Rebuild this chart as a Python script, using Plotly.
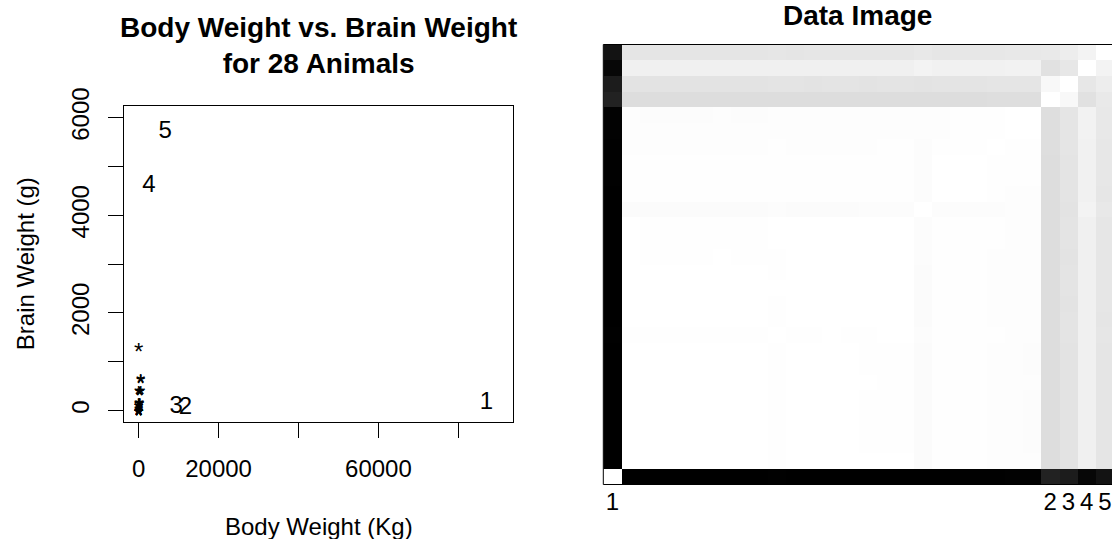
import numpy as np
import plotly.graph_objects as go

# Animals data: body weight (kg) and brain weight (g)
animals = ["Mountain beaver", "Cow", "Grey wolf", "Goat", "Guinea pig", "Dipliodocus",
           "Asian elephant", "Donkey", "Horse", "Potar monkey", "Cat", "Giraffe",
           "Gorilla", "Human", "African elephant", "Triceratops", "Rhesus monkey",
           "Kangaroo", "Golden hamster", "Mouse", "Rabbit", "Sheep", "Jaguar",
           "Chimpanzee", "Rat", "Brachiosaurus", "Mole", "Pig"]
body = [1.35, 465, 36.33, 27.66, 1.04, 11700, 2547, 187.1, 521, 10, 3.3, 529,
        207, 62, 6654, 9400, 6.8, 35, 0.12, 0.023, 2.5, 55.5, 100, 52.16, 0.28,
        87000, 0.122, 192]
brain = [8.1, 423, 119.5, 115, 5.5, 50, 4603, 419, 655, 115, 25.6, 680, 406,
         1320, 5712, 70, 179, 56, 1, 0.4, 12.1, 175, 157, 440, 1.9, 154.5, 3, 180]

# top five outliers, in rank order
outlier_names = ["Brachiosaurus", "Dipliodocus", "Triceratops", "Asian elephant",
                 "African elephant"]
outlier_ranks = ["1", "2", "3", "4", "5"]

FONT = "Liberation Sans, Arial, Helvetica, sans-serif"

X = np.column_stack([body, brain]).astype(float)
n = len(X)
D = np.sqrt(((X[:, None, :] - X[None, :, :]) ** 2).sum(-1))


def hclust_order(dist):
    """Ward (squared-distance) clustering with R's hclust leaf ordering."""
    n = dist.shape[0]
    diss = dist.copy() ** 2
    size = np.ones(n)
    alive = np.ones(n, bool)
    ia, ib = [], []
    for _ in range(n - 1):
        dmin, im, jm = np.inf, -1, -1
        for i in range(n - 1):
            if not alive[i]:
                continue
            for j in range(i + 1, n):
                if alive[j] and diss[i, j] < dmin:
                    dmin, im, jm = diss[i, j], i, j
        i2, j2 = min(im, jm), max(im, jm)
        ia.append(i2 + 1)
        ib.append(j2 + 1)
        alive[j2] = False
        dij = diss[i2, j2]
        for k in range(n):
            if alive[k] and k != i2:
                v = ((size[i2] + size[k]) * diss[i2, k] + (size[j2] + size[k]) * diss[j2, k]
                     - size[k] * dij) / (size[i2] + size[j2] + size[k])
                diss[i2, k] = diss[k, i2] = v
        size[i2] += size[j2]
    iia, iib = list(ia), list(ib)
    for i in range(n - 2):
        k = min(ia[i], ib[i])
        for j in range(i + 1, n - 1):
            if ia[j] == k:
                iia[j] = -(i + 1)
            if ib[j] == k:
                iib[j] = -(i + 1)
    iia = [-v for v in iia]
    iib = [-v for v in iib]
    for i in range(n - 1):
        if iia[i] > 0 and iib[i] < 0:
            iia[i], iib[i] = iib[i], iia[i]
        if iia[i] > 0 and iib[i] > 0:
            a, b = sorted((iia[i], iib[i]))
            iia[i], iib[i] = a, b
    iorder = [iia[n - 2], iib[n - 2]]
    for step in range(n - 2, 0, -1):
        pos = iorder.index(step)
        iorder[pos:pos + 1] = [iia[step - 1], iib[step - 1]]
    return [-v - 1 for v in iorder]


order = hclust_order(D)
Z = D[np.ix_(order, order)]
cells = list(range(1, n + 1))

fig = go.Figure()

# ---- left panel: scatter of body vs brain weight ----
is_out = [a in outlier_names for a in animals]
reg_x = [b for b, o in zip(body, is_out) if not o]
reg_y = [w for w, o in zip(brain, is_out) if not o]
out_x = [body[animals.index(a)] for a in outlier_names]
out_y = [brain[animals.index(a)] for a in outlier_names]

for xv, yv in zip(reg_x, reg_y):
    fig.add_annotation(x=xv, y=yv, xref="x", yref="y", text="*", showarrow=False,
                       yshift=-5, font=dict(family=FONT, size=24, color="black"))

fig.add_trace(go.Scatter(x=out_x, y=out_y, mode="text", text=outlier_ranks,
                         textposition="middle center",
                         textfont=dict(family=FONT, size=24, color="black"),
                         hoverinfo="skip", showlegend=False, xaxis="x", yaxis="y"))

# ---- right panel: ordered distance-matrix image ----
fig.add_trace(go.Heatmap(z=Z, x=cells, y=cells, zmin=0, zmax=float(D.max()),
                         colorscale=[[0, "#ffffff"], [1, "#000000"]],
                         showscale=False, hoverinfo="skip", xaxis="x2", yaxis="y2"))

label_pos = [order.index(animals.index(a)) + 1 for a in outlier_names]

W, H = 1112, 539
left_x0, left_x1, left_y0, left_y1 = 124.3, 512.7, 106.0, 422.3
img_x0, img_y0, img_y1 = 603.3, 44.5, 484.5
cell_w = 18.24

fig.update_layout(
    width=W, height=H, margin=dict(l=0, r=0, t=0, b=0, autoexpand=False),
    paper_bgcolor="white", plot_bgcolor="white", showlegend=False,
    font=dict(family=FONT, size=24, color="black"),
    xaxis=dict(domain=[left_x0 / W, left_x1 / W], range=[-3600, 93600], anchor="y",
               tickvals=[0, 20000, 40000, 60000, 80000],
               ticktext=["0", "20000", "", "60000", ""],
               ticks="outside", ticklen=15, tickwidth=1, tickcolor="black",
               showline=True, mirror=True, linecolor="black", linewidth=1,
               showgrid=False, zeroline=False, ticklabelstandoff=10,
               automargin=False, tickfont=dict(size=24)),
    yaxis=dict(domain=[1 - left_y1 / H, 1 - left_y0 / H], range=[-240, 6240], anchor="x",
               tickvals=[0, 1000, 2000, 3000, 4000, 5000, 6000],
               ticktext=["0", "", "2000", "", "4000", "", "6000"],
               tickangle=-90, ticks="outside", ticklen=15, tickwidth=1,
               tickcolor="black", showline=True, mirror=True, linecolor="black",
               linewidth=1, showgrid=False, zeroline=False, ticklabelstandoff=10,
               automargin=False, tickfont=dict(size=24)),
    xaxis2=dict(domain=[img_x0 / W, 1.0], anchor="y2",
                range=[0.5, 0.5 + (W - img_x0) / cell_w],
                tickvals=label_pos, ticktext=outlier_ranks, ticks="",
                showline=False, showgrid=False, zeroline=False,
                ticklabelstandoff=0, automargin=False, tickfont=dict(size=24)),
    yaxis2=dict(domain=[1 - img_y1 / H, 1 - img_y0 / H], range=[0.5, n + 0.5],
                anchor="x2", showticklabels=False, ticks="", showline=False,
                showgrid=False, zeroline=False, automargin=False),
)

# frame around the image
fig.add_shape(type="rect", xref="x2 domain", yref="y2 domain", x0=0, x1=1.05,
              y0=0, y1=1, line=dict(color="black", width=1), layer="above")

# titles and axis labels
fig.add_annotation(x=(left_x0 + left_x1) / 2 / W, y=1 - 45 / H, xref="paper", yref="paper",
                   text="<b>Body Weight vs. Brain Weight<br>for 28 Animals</b>",
                   showarrow=False, xanchor="center", yanchor="middle",
                   font=dict(family=FONT, size=28, color="black"))
fig.add_annotation(x=857 / W, y=1 - 16 / H, xref="paper", yref="paper",
                   text="<b>Data Image</b>", showarrow=False,
                   xanchor="center", yanchor="middle",
                   font=dict(family=FONT, size=28, color="black"))
fig.add_annotation(x=(left_x0 + left_x1) / 2 / W, y=1 - 526 / H, xref="paper", yref="paper",
                   text="Body Weight (Kg)", showarrow=False,
                   xanchor="center", yanchor="middle",
                   font=dict(family=FONT, size=24, color="black"))
fig.add_annotation(x=25 / W, y=1 - (left_y0 + left_y1) / 2 / H, xref="paper", yref="paper",
                   text="Brain Weight (g)", showarrow=False, textangle=-90,
                   xanchor="center", yanchor="middle",
                   font=dict(family=FONT, size=24, color="black"))

fig.write_html("out.html")
